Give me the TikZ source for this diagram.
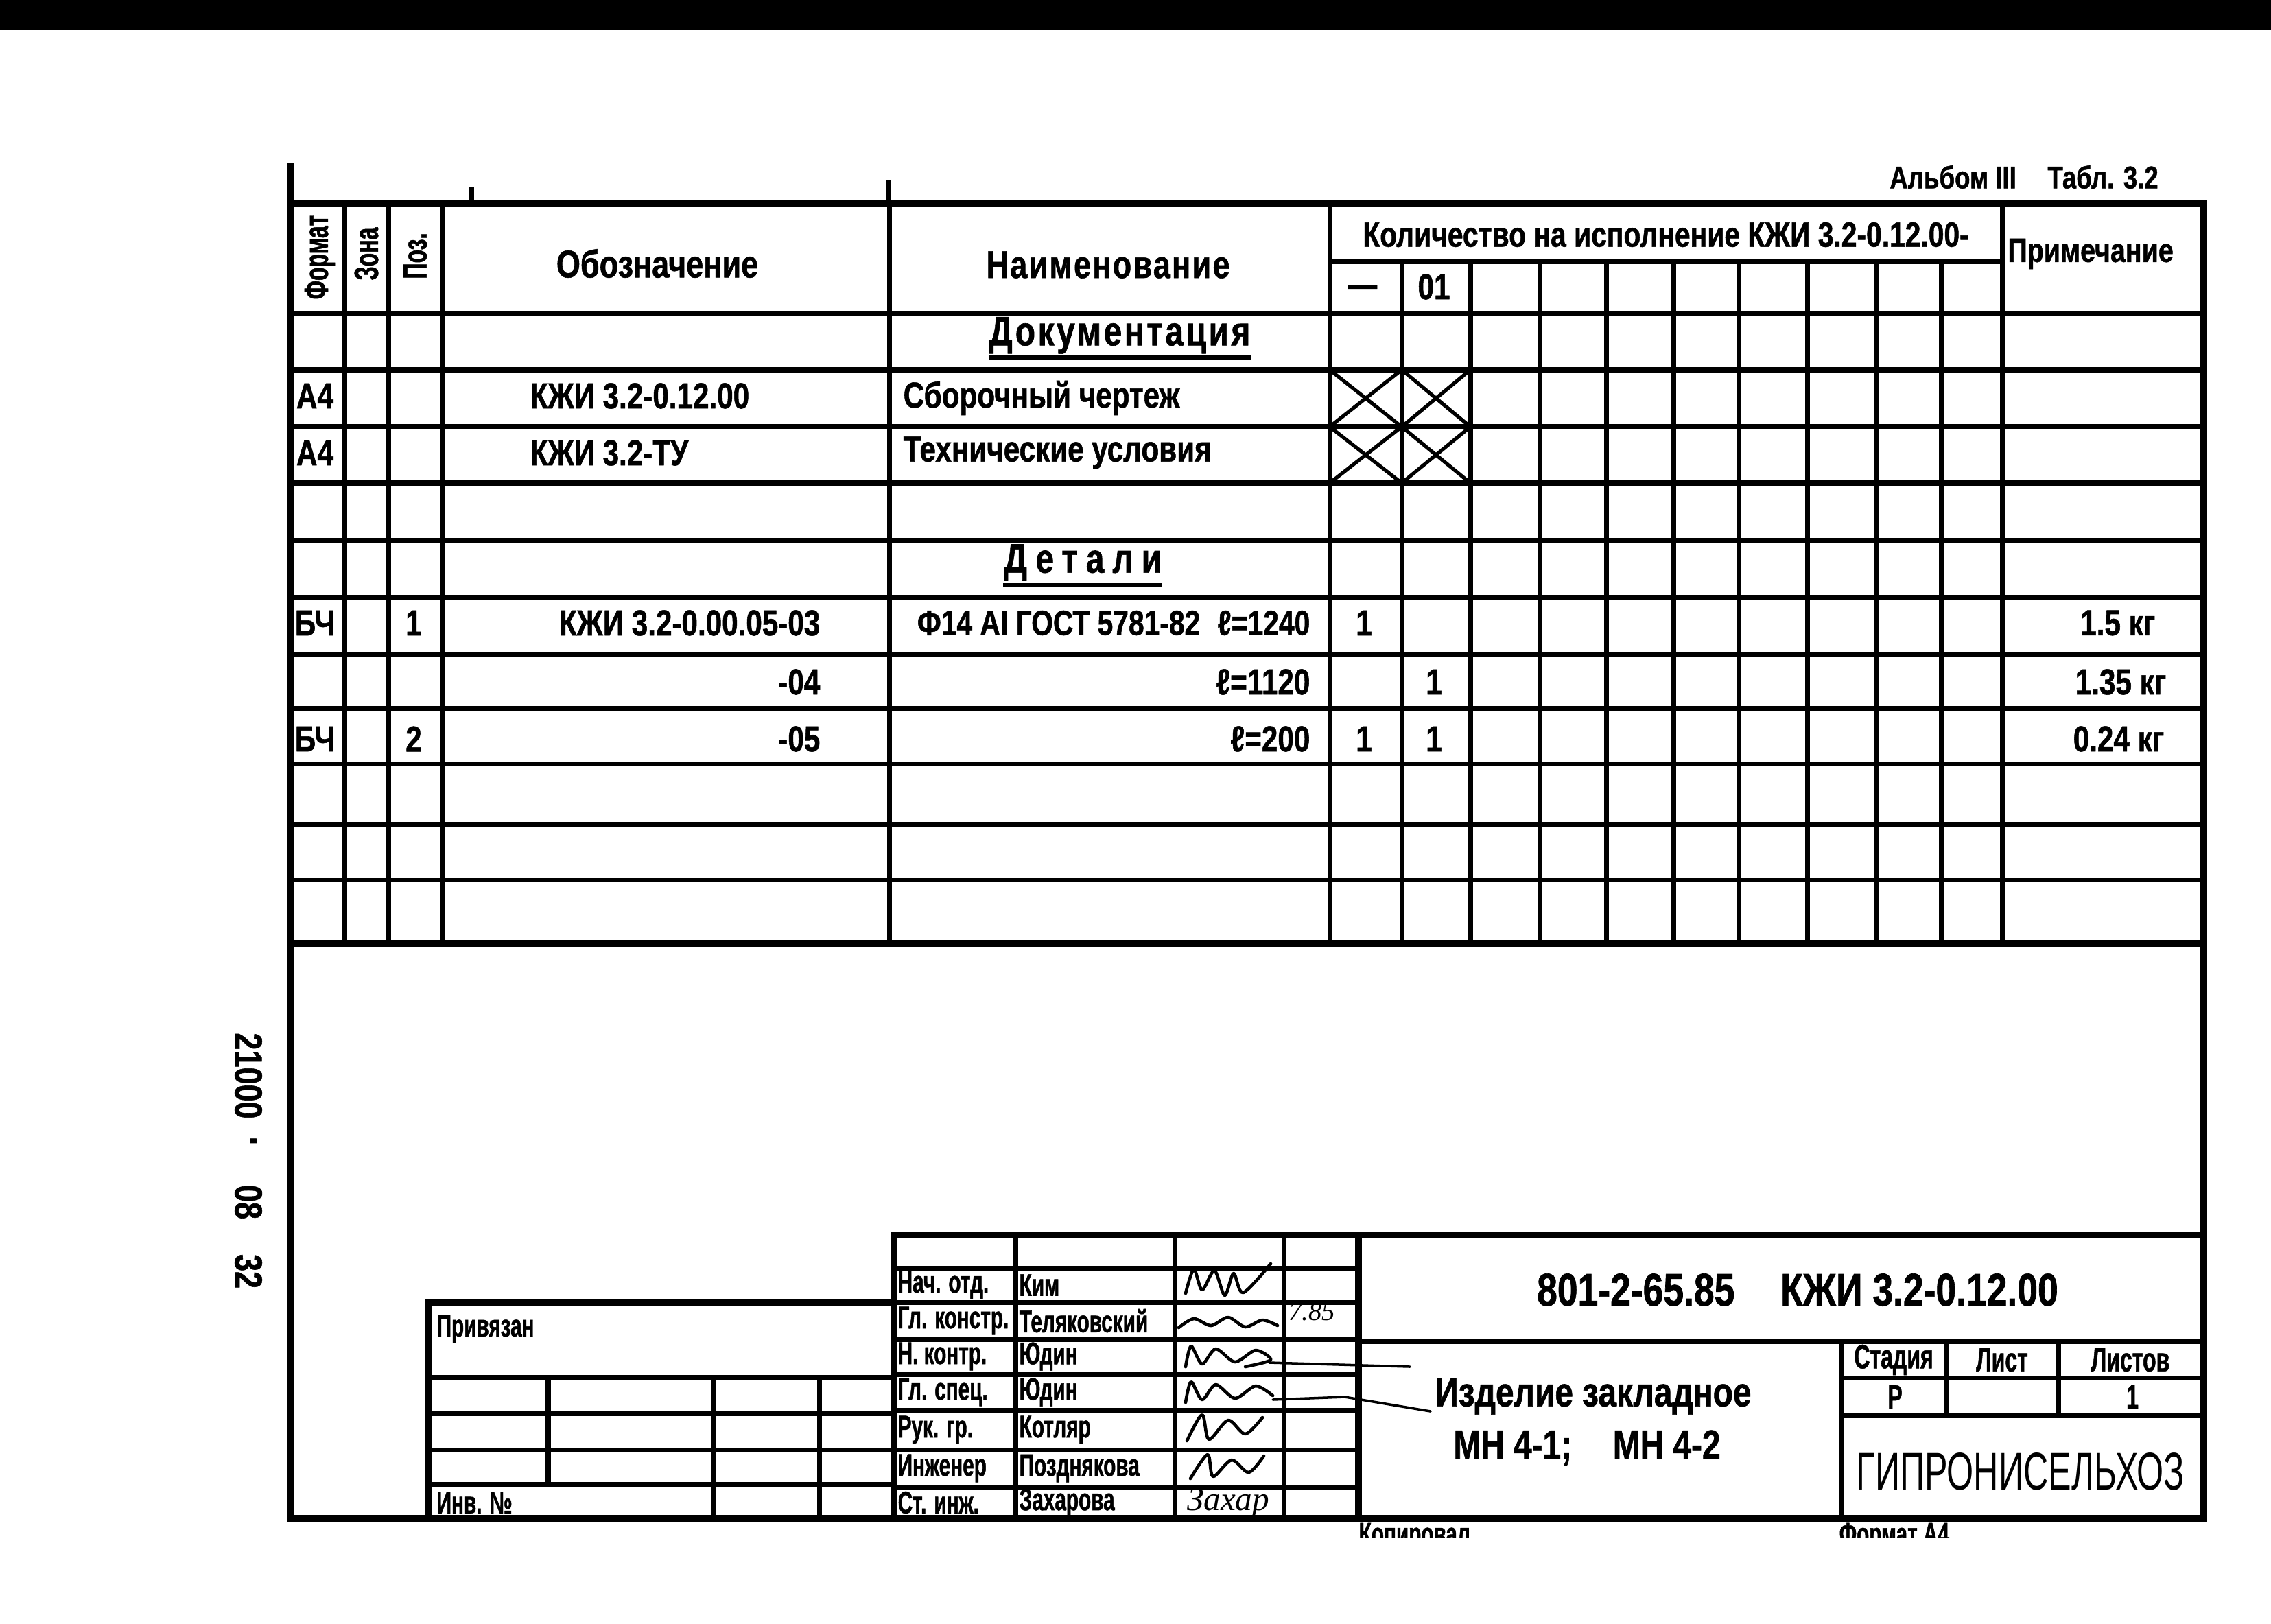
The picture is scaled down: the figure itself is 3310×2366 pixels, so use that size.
\documentclass[tikz,border=0pt]{standalone}
\usepackage{fontspec}
\setmainfont{Liberation Sans}[FakeStretch=0.8,BoldFeatures={FakeBold=1}]
\newfontfamily\narrowfont{Liberation Sans}[FakeStretch=0.65,BoldFeatures={FakeBold=1}]
\newfontfamily\handfont{Liberation Serif}
\begin{document}
\begin{tikzpicture}[x=0.01cm,y=-0.01cm,
    border/.style={line width=2.6pt},
    ruling/.style={line width=2pt},
    xline/.style={line width=1.5pt},
    cell/.style={inner sep=0pt,font=\bfseries\fontsize{15}{17}\selectfont},
    colhead/.style={inner sep=0pt,font=\bfseries\fontsize{16}{18}\selectfont},
    lbl/.style={inner sep=0pt,font=\narrowfont\bfseries\fontsize{14}{16}\selectfont},
    stamp/.style={inner sep=0pt,font=\narrowfont\bfseries\fontsize{13}{15}\selectfont},
    scrawl/.style={line width=1.3pt,line cap=round,line join=round}]
\useasboundingbox (0,0) rectangle (3310,2366);
\fill (0,0) rectangle (3310,44);

% frame and table grid
\draw[border] (424,238) -- (424,2213) -- (3212,2213) -- (3212,296) -- (424,296);
\draw[ruling] (687,296) -- (687,272) (1294,296) -- (1294,262);
\foreach \y in {457,539,622,704,787,870,953,1032,1113,1201,1282}
    \draw[ruling] (424,\y) -- (3212,\y);
\draw[border] (424,1375) -- (3212,1375);
\foreach \x in {502,566,645,1296,1938,2918}
    \draw[ruling] (\x,296) -- (\x,1375);
\foreach \x in {2043,2143,2244,2341,2439,2534,2634,2735,2829}
    \draw[ruling] (\x,381) -- (\x,1375);
\draw[ruling] (1938,381) -- (2918,381);
\foreach \xa/\xb in {1938/2043,2043/2143}
    \foreach \ya/\yb in {539/622,622/704}
        \draw[xline] (\xa,\ya) -- (\xb,\yb) (\xb,\ya) -- (\xa,\yb);

% header
\node[lbl,rotate=90] (format) at (466,375) {Формат};
\node[lbl,rotate=90] (zona) at (534,370) {Зона};
\node[lbl,rotate=90] (poz) at (605,373) {Поз.};
\node[colhead] (oboz) at (958,384) {Обозначение};
\node[colhead,font=\bfseries\fontsize{16}{18}\selectfont\addfontfeature{LetterSpace=4}] (naim) at (1615,386) {Наименование};
\node[cell,font=\bfseries\fontsize{14.5}{16}\selectfont] (kolvo) at (2428,342) {Количество на исполнение КЖИ 3.2-0.12.00-};
\node[cell,font=\bfseries\fontsize{14}{16}\selectfont] (prim) at (3047,370) {Примечание};
\node[cell] (ispa) at (1986,424) {—};
\node[cell] (ispb) at (2090,418) {01};

% rows
\node[colhead,font=\bfseries\fontsize{17}{19}\selectfont\addfontfeature{LetterSpace=6}] (docs) at (1632,489) {Документация};
\draw[xline] ([yshift=-5pt]docs.base west) -- ([yshift=-5pt]docs.base east);
\node[cell] (fa1) at (459,577) {А4};
\node[cell,anchor=west] (ob1) at (772,577) {КЖИ 3.2-0.12.00};
\node[cell,anchor=west] (nm1) at (1316,580) {Сборочный чертеж};
\node[cell] (fa2) at (459,660) {А4};
\node[cell,anchor=west] (ob2) at (772,660) {КЖИ 3.2-ТУ};
\node[cell,anchor=west] (nm2) at (1316,660) {Технические условия};
\node[colhead,font=\bfseries\fontsize{17}{19}\selectfont\addfontfeature{LetterSpace=20}] (parts) at (1578,820) {Детали};
\draw[xline] ([yshift=-5pt]parts.base west) -- ([yshift=-5pt]parts.base east);

\node[cell] (fa3) at (459,908) {БЧ};
\node[cell] (pz1) at (603,908) {1};
\node[cell,anchor=east] (ob3) at (1196,908) {КЖИ 3.2-0.00.05-03};
\node[cell,anchor=east,font=\bfseries\fontsize{14.5}{16}\selectfont] (nm3) at (1910,908) {Ф14 АI ГОСТ 5781-82\enspace ℓ=1240};
\node[cell] (q31) at (1988,908) {1};
\node[cell,anchor=east] (pr3) at (3142,908) {1.5 кг};

\node[cell,anchor=east] (ob4) at (1196,994) {-04};
\node[cell,anchor=east] (nm4) at (1910,994) {ℓ=1120};
\node[cell] (q42) at (2090,994) {1};
\node[cell,anchor=east] (pr4) at (3158,994) {1.35 кг};

\node[cell] (fa5) at (459,1077) {БЧ};
\node[cell] (pz2) at (603,1077) {2};
\node[cell,anchor=east] (ob5) at (1196,1077) {-05};
\node[cell,anchor=east] (nm5) at (1910,1077) {ℓ=200};
\node[cell] (q51) at (1988,1077) {1};
\node[cell] (q52) at (2090,1077) {1};
\node[cell,anchor=east] (pr5) at (3155,1077) {0.24 кг};

% margin marks
\node[inner sep=0pt,font=\bfseries\fontsize{13}{15}\selectfont] (album) at (2950,258) {Альбом III\quad Табл. 3.2};
\foreach \t/\y [count=\i] in {21000/1568, ·/1664, 08/1752, 32/1853}
    \node[inner sep=0pt,rotate=-90,font=\bfseries\fontsize{16}{18}\selectfont] (arch\i) at (362,\y) {\t};

% binding box
\draw[border] (625,2213) -- (625,1898) -- (1303,1898);
\foreach \y in {2007,2060,2113,2163}
    \draw[ruling] (625,\y) -- (1303,\y);
\draw[ruling] (799,2007) -- (799,2163);
\foreach \x in {1039,1194}
    \draw[ruling] (\x,2007) -- (\x,2213);
\node[stamp,anchor=west] (priv) at (636,1937) {Привязан};
\node[stamp,anchor=west] (inv) at (636,2190) {Инв. №};

% signature block
\draw[border] (1303,2213) -- (1303,1800) -- (3212,1800);
\foreach \y in {1848,1898,1952,2003,2055,2113,2167}
    \draw[ruling] (1303,\y) -- (1980,\y);
\foreach \x in {1480,1712,1871}
    \draw[ruling] (\x,1800) -- (\x,2213);
\draw[border] (1980,1800) -- (1980,2213);
\foreach \y/\post/\who [count=\i] in {1873/Нач. отд./Ким, 1925/Гл. констр./Теляковский,
        1977/Н. контр./Юдин, 2029/Гл. спец./Юдин, 2084/Рук. гр./Котляр,
        2140/Инженер/Позднякова, 2190/Ст. инж./Захарова}
{
    \node[stamp,anchor=west] (post\i) at (1308,\y) {\post};
    \node[stamp,anchor=west] (who\i) at (1485,\y) {\who};
}
\draw[scrawl] plot[smooth] coordinates {(1728,1885) (1740,1850) (1752,1880) (1770,1852) (1785,1888) (1798,1856) (1812,1884) (1852,1842)};
\draw[scrawl] plot[smooth] coordinates {(1718,1935) (1740,1922) (1765,1932) (1790,1920) (1815,1934) (1840,1924) (1862,1932)};
\node[inner sep=0pt,font=\handfont\itshape\fontsize{11}{12}\selectfont] (date) at (1912,1912) {7.85};
\draw[scrawl] plot[smooth] coordinates {(1728,1992) (1736,1962) (1752,1988) (1772,1966) (1800,1985) (1830,1968) (1852,1982) (1815,1992)};
\draw[scrawl,line width=1pt] (1850,1986) -- (2055,1992);
\draw[scrawl] plot[smooth] coordinates {(1728,2044) (1736,2014) (1752,2040) (1772,2018) (1800,2038) (1830,2020) (1855,2034)};
\draw[scrawl,line width=1pt] (1855,2040) -- (1960,2036) -- (2085,2057);
\draw[scrawl] plot[smooth] coordinates {(1730,2100) (1752,2062) (1762,2098) (1790,2070) (1815,2090) (1840,2066)};
\draw[scrawl] plot[smooth] coordinates {(1735,2155) (1760,2120) (1768,2152) (1795,2128) (1820,2146) (1842,2122)};
\node[inner sep=0pt,font=\handfont\itshape\fontsize{14}{15}\selectfont] (sig7) at (1790,2190) {Захар};

% title block
\draw[ruling] (1980,1955) -- (3212,1955);
\draw[ruling] (2684,1955) -- (2684,2213);
\foreach \y in {2008,2063}
    \draw[ruling] (2684,\y) -- (3212,\y);
\foreach \x in {2837,3000}
    \draw[ruling] (\x,1955) -- (\x,2063);
\node[inner sep=0pt,font=\bfseries\fontsize{19}{21}\selectfont] (code) at (2620,1880) {801-2-65.85\quad КЖИ 3.2-0.12.00};
\node[inner sep=0pt,font=\bfseries\fontsize{17}{19}\selectfont] (item) at (2322,2035) {Изделие закладное};
\node[inner sep=0pt,font=\bfseries\fontsize{17}{19}\selectfont] (marks) at (2313,2110) {МН 4-1;\quad МН 4-2};
\node[lbl] (stage) at (2760,1982) {Стадия};
\node[lbl] (sheet) at (2918,1982) {Лист};
\node[lbl] (sheets) at (3105,1982) {Листов};
\node[lbl] (stageval) at (2762,2036) {Р};
\node[lbl] (sheetsval) at (3108,2036) {1};
\node[inner sep=0pt,font=\narrowfont\fontsize{22}{24}\selectfont] (org) at (2945,2145) {ГИПРОНИСЕЛЬХОЗ};

\begin{scope}
    \clip (1900,2213) rectangle (3000,2240);
    \node[stamp,anchor=north west] (copy) at (1980,2219) {Копировал};
    \node[stamp,anchor=north west] (fmt) at (2680,2219) {Формат А4};
\end{scope}
\end{tikzpicture}
\end{document}
